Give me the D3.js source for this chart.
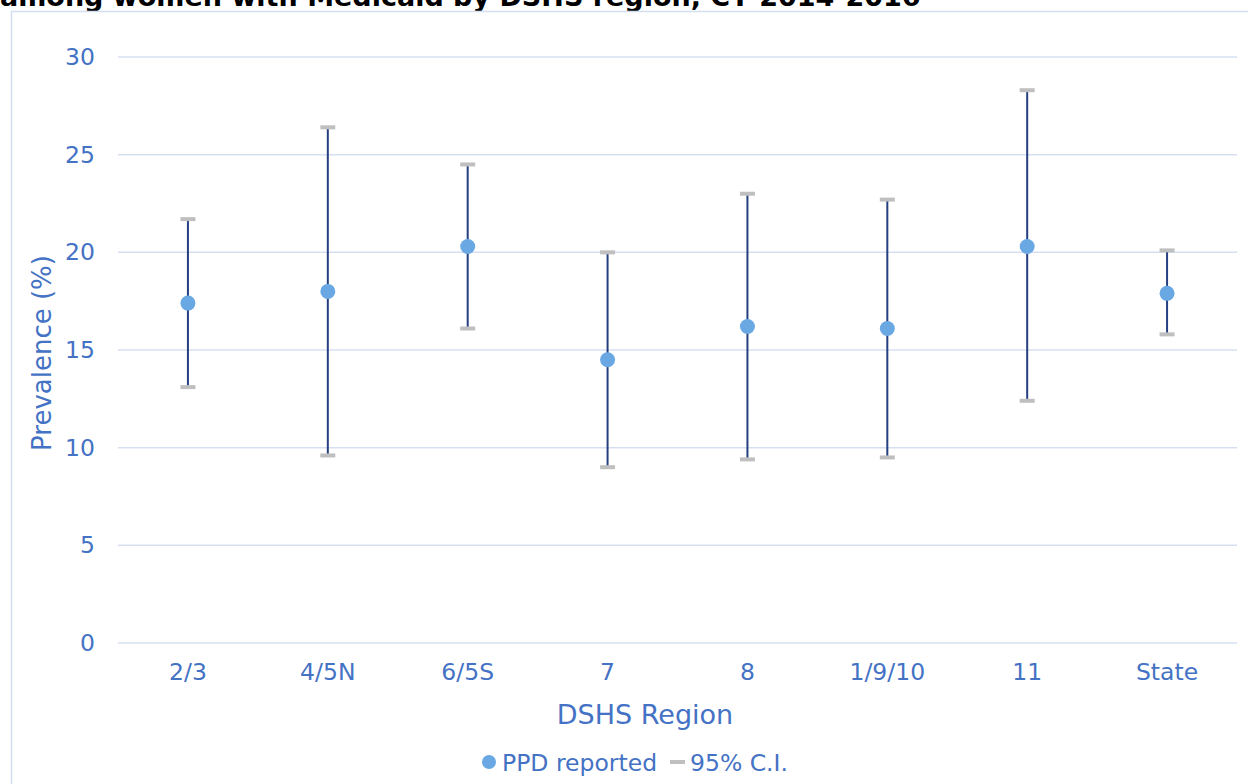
<!DOCTYPE html>
<html>
<head>
<meta charset="utf-8">
<script src="https://cdn.jsdelivr.net/npm/d3@7"></script>
<style>
  html, body { margin: 0; padding: 0; background: #ffffff; }
  svg { display: block; }
  text { font-family: "DejaVu Sans", Verdana, sans-serif; }
</style>
</head>
<body>
<svg id="chart" width="1248" height="784"></svg>
<script>
const categories = ["2/3", "4/5N", "6/5S", "7", "8", "1/9/10", "11", "State"];
const prevalence = [17.4, 18.0, 20.3, 14.5, 16.2, 16.1, 20.3, 17.9];
const ciLower    = [13.1, 9.6, 16.1, 9.0, 9.4, 9.5, 12.4, 15.8];
const ciUpper    = [21.7, 26.4, 24.5, 20.0, 23.0, 22.7, 28.3, 20.1];
const yTicks     = [0, 5, 10, 15, 20, 25, 30];

const titleText = "among women with Medicaid by DSHS region, CY 2014-2016";
const yTitle = "Prevalence (%)";
const xTitle = "DSHS Region";
const legendPoint = "PPD reported";
const legendCI = "95% C.I.";

const blue = "#4472C4";
const pointFill = "#6AA8E3";
const barColor = "#253F80";
const capColor = "#BFBFBF";
const gridColor = "#D6DFF2";

const svg = d3.select("#chart");

// title (cropped at top, as in the reference)
svg.append("text")
  .attr("x", 0).attr("y", 6)
  .attr("font-size", 27).attr("font-weight", "bold").attr("fill", "#000")
  .text(titleText);

// chart border
svg.append("rect")
  .attr("x", 11.5).attr("y", 11.5).attr("width", 1250).attr("height", 800)
  .attr("fill", "none").attr("stroke", "#D4DEF1").attr("stroke-width", 1.5);

const pLeft = 118, pRight = 1237, pTop = 57, pBottom = 643;

const x = d3.scaleBand().domain(categories).range([pLeft, pRight]);
const y = d3.scaleLinear().domain([0, 30]).range([pBottom, pTop]);

// gridlines
svg.append("g").selectAll("line").data(yTicks).join("line")
  .attr("x1", pLeft).attr("x2", pRight)
  .attr("y1", d => y(d)).attr("y2", d => y(d))
  .attr("stroke", gridColor).attr("stroke-width", 1.5);

// y axis labels
const yAxis = svg.append("g").attr("transform", `translate(${pLeft},0)`)
  .call(d3.axisLeft(y).tickValues(yTicks).tickSize(0).tickPadding(23));
yAxis.select(".domain").remove();
yAxis.selectAll("text").attr("font-size", 23.5).attr("fill", blue)
  .attr("font-family", '"DejaVu Sans", Verdana, sans-serif');

// x axis labels
const xAxis = svg.append("g").attr("transform", `translate(0,${pBottom})`)
  .call(d3.axisBottom(x).tickSize(0).tickPadding(20));
xAxis.select(".domain").remove();
xAxis.selectAll("text").attr("font-size", 23.5).attr("fill", blue)
  .attr("font-family", '"DejaVu Sans", Verdana, sans-serif');

// axis titles
svg.append("text")
  .attr("transform", `translate(51,353) rotate(-90)`)
  .attr("text-anchor", "middle")
  .attr("font-size", 26).attr("fill", blue)
  .text(yTitle);

svg.append("text")
  .attr("x", 645).attr("y", 724)
  .attr("text-anchor", "middle")
  .attr("font-size", 27).attr("fill", blue)
  .text(xTitle);

const data = categories.map((c, i) => ({c, v: prevalence[i], lo: ciLower[i], hi: ciUpper[i]}));
const cx = d => x(d.c) + x.bandwidth() / 2;

const g = svg.append("g");
// error bars
g.selectAll("line.bar").data(data).join("line").attr("class", "bar")
  .attr("x1", cx).attr("x2", cx)
  .attr("y1", d => y(d.lo)).attr("y2", d => y(d.hi))
  .attr("stroke", barColor).attr("stroke-width", 2);
// caps
g.selectAll("line.capHi").data(data).join("line").attr("class", "capHi")
  .attr("x1", d => cx(d) - 7.5).attr("x2", d => cx(d) + 7.5)
  .attr("y1", d => y(d.hi)).attr("y2", d => y(d.hi))
  .attr("stroke", capColor).attr("stroke-width", 4);
g.selectAll("line.capLo").data(data).join("line").attr("class", "capLo")
  .attr("x1", d => cx(d) - 7.5).attr("x2", d => cx(d) + 7.5)
  .attr("y1", d => y(d.lo)).attr("y2", d => y(d.lo))
  .attr("stroke", capColor).attr("stroke-width", 4);
// points
g.selectAll("circle").data(data).join("circle")
  .attr("cx", cx).attr("cy", d => y(d.v)).attr("r", 7.5)
  .attr("fill", pointFill);

// legend
const lg = svg.append("g");
lg.append("circle").attr("cx", 489).attr("cy", 762).attr("r", 7).attr("fill", pointFill);
lg.append("text").attr("x", 502).attr("y", 770.5).attr("font-size", 23.5).attr("fill", blue).text(legendPoint);
lg.append("line").attr("x1", 670).attr("x2", 685).attr("y1", 762).attr("y2", 762)
  .attr("stroke", capColor).attr("stroke-width", 4);
lg.append("text").attr("x", 690).attr("y", 770.5).attr("font-size", 23.5).attr("fill", blue).text(legendCI);
</script>
</body>
</html>
